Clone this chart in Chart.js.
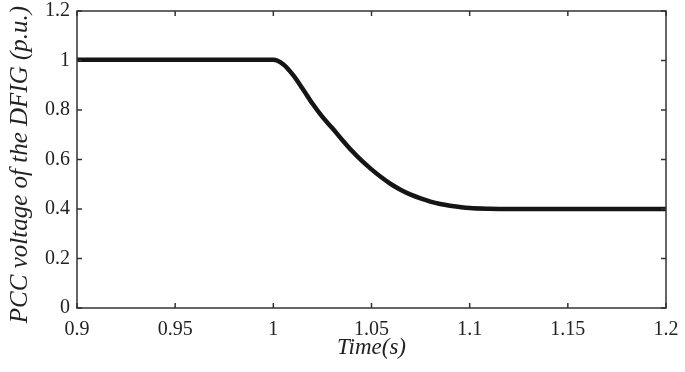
<!DOCTYPE html>
<html lang="en">
<head>
  <meta charset="UTF-8" />
  <title>PCC voltage of the DFIG</title>
  <script src="https://cdn.jsdelivr.net/npm/chart.js"></script>
  <style>
    html, body { margin: 0; padding: 0; background: #fff; }
    #wrap { width: 685px; height: 372px; }
  </style>
</head>
<body>
  <div id="wrap"><canvas id="grafico" width="685" height="372"></canvas></div>
  <script>
    // time (s) and PCC voltage (p.u.)
    const tempo = [0.9, 0.95, 1.0, 1.005, 1.01, 1.015, 1.02, 1.025, 1.03, 1.035, 1.04, 1.045, 1.05,
                   1.055, 1.06, 1.065, 1.07, 1.075, 1.08, 1.085, 1.09, 1.095, 1.1, 1.11, 1.12, 1.2];
    const tensao = [1.003, 1.003, 1.003, 0.985, 0.942, 0.885, 0.825, 0.772, 0.727, 0.68, 0.635, 0.595, 0.56,
                    0.528, 0.5, 0.477, 0.458, 0.443, 0.43, 0.42, 0.413, 0.408, 0.404, 0.401, 0.4, 0.4];
    const xTicks = [0.9, 0.95, 1, 1.05, 1.1, 1.15, 1.2];
    const yTicks = [0, 0.2, 0.4, 0.6, 0.8, 1, 1.2];
    const tituloY = 'PCC voltage of the DFIG (p.u.)';

    const fonte = "'Liberation Serif', 'Times New Roman', serif";
    const corEixo = '#333';

    // frame + inward ticks on all four sides, plus the y title (sits a bit below centre)
    const moldura = {
      id: 'moldura',
      afterDraw(chart) {
        const { ctx, chartArea: a, scales } = chart;
        ctx.save();
        ctx.strokeStyle = corEixo;
        ctx.lineWidth = 1.5;
        ctx.strokeRect(a.left, a.top, a.right - a.left, a.bottom - a.top);
        ctx.beginPath();
        scales.x.ticks.forEach(t => {
          const px = scales.x.getPixelForValue(t.value);
          ctx.moveTo(px, a.bottom); ctx.lineTo(px, a.bottom - 5);
          ctx.moveTo(px, a.top); ctx.lineTo(px, a.top + 5);
        });
        scales.y.ticks.forEach(t => {
          const py = scales.y.getPixelForValue(t.value);
          ctx.moveTo(a.left, py); ctx.lineTo(a.left + 5, py);
          ctx.moveTo(a.right, py); ctx.lineTo(a.right - 5, py);
        });
        ctx.stroke();

        ctx.translate(20, (a.top + a.bottom) / 2 + 5);
        ctx.rotate(-Math.PI / 2);
        ctx.fillStyle = '#222';
        ctx.font = 'italic 25px ' + fonte;
        ctx.textAlign = 'center';
        ctx.textBaseline = 'middle';
        ctx.fillText(tituloY, 0, 0);
        ctx.restore();
      }
    };

    const fmt = v => String(+v.toFixed(2));

    new Chart(document.getElementById('grafico'), {
      type: 'line',
      data: {
        datasets: [{
          data: tempo.map((t, i) => ({ x: t, y: tensao[i] })),
          borderColor: '#151515',
          borderWidth: 4.5,
          pointRadius: 0,
          fill: false,
          cubicInterpolationMode: 'monotone'
        }]
      },
      options: {
        responsive: false,
        animation: false,
        layout: { padding: { top: 11, right: 19, left: 0, bottom: 0 } },
        plugins: { legend: { display: false }, tooltip: { enabled: false } },
        scales: {
          x: {
            type: 'linear',
            min: 0.9, max: 1.2,
            afterBuildTicks: s => { s.ticks = xTicks.map(v => ({ value: v })); },
            afterFit: s => { s.height = 64; s.paddingLeft = 0; s.paddingRight = 0; },
            grid: { display: false, drawTicks: false },
            border: { display: false },
            ticks: { color: '#222', font: { family: fonte, size: 20 }, padding: 10, maxRotation: 0, callback: fmt },
            title: { display: true, text: 'Time(s)', color: '#222',
                     font: { family: fonte, size: 23, style: 'italic' }, padding: { top: 0, bottom: 10 } }
          },
          y: {
            min: 0, max: 1.2,
            afterBuildTicks: s => { s.ticks = yTicks.map(v => ({ value: v })); },
            afterFit: s => { s.width = 77; s.paddingTop = 0; s.paddingBottom = 0; },
            grid: { display: false, drawTicks: false },
            border: { display: false },
            ticks: { color: '#222', font: { family: fonte, size: 20 }, padding: 7, callback: fmt },
            title: { display: false }
          }
        }
      },
      plugins: [moldura]
    });
  </script>
</body>
</html>
